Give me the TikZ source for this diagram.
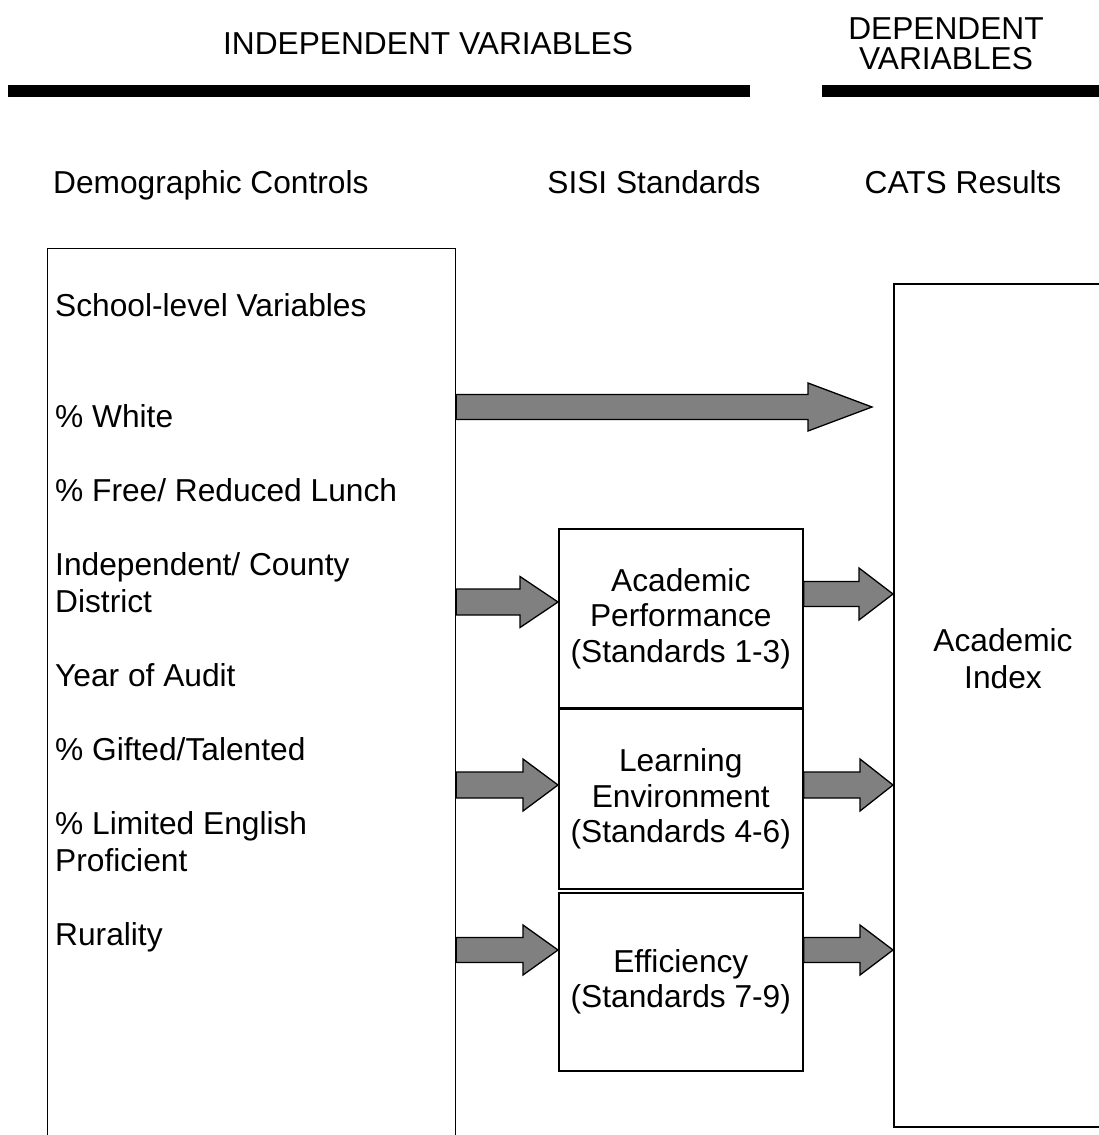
\documentclass[tikz,border=0pt]{standalone}
\usepackage{fontspec}
\setmainfont{Liberation Sans}
\usetikzlibrary{positioning,calc}
\definecolor{arrowgray}{RGB}{128,128,128}

% block arrow: tail, tip, shaft half width, head half width, head length
\newcommand{\blockarrow}[5]{%
  \draw[fatarrow] ($(#1)+(0,#3)$) -- ($(#2)+(-#5,#3)$) -- ($(#2)+(-#5,#4)$)
    -- (#2) -- ($(#2)+(-#5,-#4)$) -- ($(#2)+(-#5,-#3)$) -- ($(#1)+(0,-#3)$) -- cycle;}

\begin{document}
\begin{tikzpicture}[x=1pt, y=-1pt,
   txt/.style={font=\fontsize{31.7}{36.8}\selectfont, inner sep=0pt},
   panel/.style={draw, line width=1.3pt, anchor=north west, inner sep=0pt},
   stdbox/.style={panel, line width=1.6pt, minimum width=244pt, align=center,
                  font=\fontsize{31.7}{35.5}\selectfont},
   headbar/.style={fill=black},
   fatarrow/.style={draw, line width=1.3pt, fill=arrowgray, line join=miter}]
  \useasboundingbox (0,0) rectangle (1099,1135);

  % headings (base of a two-line node is its last line)
  \node[txt, anchor=base] (indep) at (428,54) {INDEPENDENT VARIABLES};
  \node[txt, anchor=base, align=center, font=\fontsize{31.7}{30}\selectfont]
       (dep) at (946,69) {DEPENDENT\\VARIABLES};
  \fill[headbar] (8,85) rectangle (750,97);
  \fill[headbar] (822,85) rectangle (1099,97);

  \node[txt, anchor=base west] (demohd) at (53,193) {Demographic Controls};
  \node[txt, anchor=base] (sisihd) at (654,193) {SISI Standards};
  \node[txt, anchor=base] (catshd) at (963,193) {CATS Results};

  % boxes
  \node[panel, minimum width=408pt, minimum height=910pt] (demo) at (47,248) {};
  \node[panel, line width=1.6pt, minimum width=230pt, minimum height=843pt] (index) at (893,283) {};
  \node[stdbox, minimum height=179pt] (acad) at (558,528)
       {Academic\\Performance\\(Standards 1-3)};
  \node[stdbox, minimum height=180pt] (learn) at (558,708)
       {Learning\\Environment\\(Standards 4-6)};
  \node[stdbox, minimum height=178pt] (effic) at (558,892)
       {Efficiency\\(Standards 7-9)};
  \node[txt, align=center, anchor=base] (idx) at (1003,688) {Academic\\Index};

  % demographic list
  \node[txt, anchor=base west] (lvl)  at (55,316) {School-level Variables};
  \node[txt, anchor=base west] (wht)  at (55,427) {\% White};
  \node[txt, anchor=base west] (frl)  at (55,501) {\% Free/ Reduced Lunch};
  \node[txt, anchor=base west, align=left] (dist) at (55,612) {Independent/ County\\District};
  \node[txt, anchor=base west] (yr)   at (55,686) {Year of Audit};
  \node[txt, anchor=base west] (gt)   at (55,760) {\% Gifted/Talented};
  \node[txt, anchor=base west, align=left] (lep) at (55,871) {\% Limited English\\Proficient};
  \node[txt, anchor=base west] (rur)  at (55,945) {Rurality};

  % arrow ends
  \coordinate (d0) at (demo.east |- 0,407);
  \coordinate (t0) at (872,407);
  \coordinate (d1) at (demo.east |- 0,602);
  \coordinate (a1) at (acad.west |- 0,602);
  \coordinate (d2) at (demo.east |- 0,785);
  \coordinate (a2) at (learn.west |- 0,785);
  \coordinate (d3) at (demo.east |- 0,950);
  \coordinate (a3) at (effic.west |- 0,950);
  \coordinate (b1) at (acad.east |- 0,594);
  \coordinate (i1) at (index.west |- 0,594);
  \coordinate (b2) at (learn.east |- 0,785);
  \coordinate (i2) at (index.west |- 0,785);
  \coordinate (b3) at (effic.east |- 0,950);
  \coordinate (i3) at (index.west |- 0,950);

  \blockarrow{d0}{t0}{12.5}{24}{64}
  \blockarrow{d1}{a1}{13}{25.5}{38}
  \blockarrow{d2}{a2}{13}{26}{35}
  \blockarrow{d3}{a3}{12.5}{25}{35}
  \blockarrow{b1}{i1}{12.5}{26}{34}
  \blockarrow{b2}{i2}{13}{26}{33}
  \blockarrow{b3}{i3}{12.5}{25}{33}
\end{tikzpicture}
\end{document}
